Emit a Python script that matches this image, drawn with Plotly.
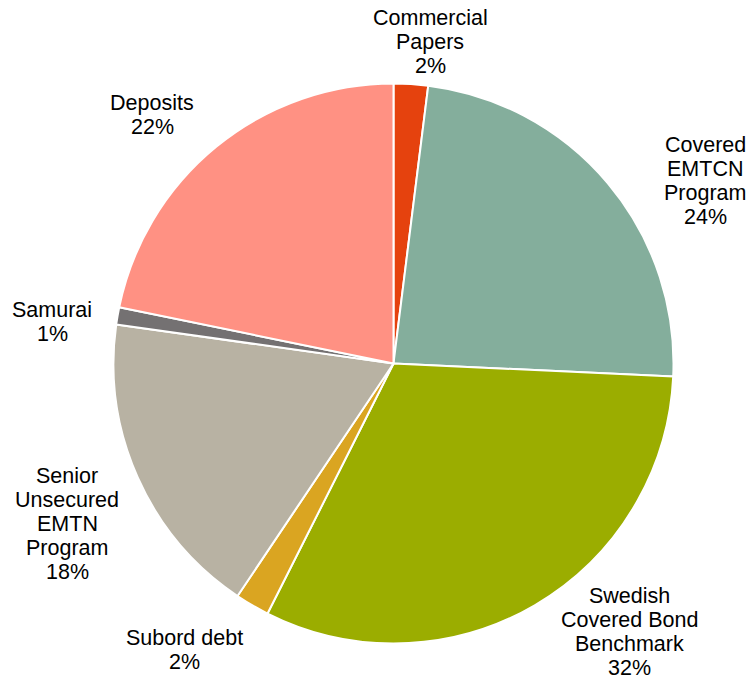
import plotly.graph_objects as go

# Funding mix by source (share of total, %)
categories = [
    "Commercial<br>Papers",
    "Covered<br>EMTCN<br>Program",
    "Swedish<br>Covered Bond<br>Benchmark",
    "Subord debt",
    "Senior<br>Unsecured<br>EMTN<br>Program",
    "Samurai",
    "Deposits",
]
shares = [2, 24, 32, 2, 18, 1, 22]
colors = ["#E5420E", "#84AE9C", "#9BAD00", "#DAA521", "#B8B2A3", "#747172", "#FF9183"]

W, H = 747, 681

# Pie placement (pixels): centre and radius
CX, CY, R = 393.5, 363.5, 280

# Label block centres (pixels), one per category, and line pitch
label_pos = [
    (430, 42),
    (705, 181),
    (629, 632),
    (184, 650),
    (67, 524),
    (52, 322),
    (152, 115),
]
LINE_PITCH = 24
FONT = dict(family="Liberation Sans, Arial, sans-serif", size=21.5, color="#000000")

fig = go.Figure(
    go.Pie(
        values=shares,
        labels=[c.replace("<br>", " ") for c in categories],
        marker=dict(colors=colors, line=dict(color="white", width=2)),
        sort=False,
        direction="clockwise",
        rotation=0,
        textinfo="none",
        hoverinfo="label+value",
        domain=dict(
            x=[(CX - R) / W, (CX + R) / W],
            y=[(H - CY - R) / H, (H - CY + R) / H],
        ),
        showlegend=False,
    )
)

# Each label is drawn line by line so the line pitch stays tight
annotations = []
for name, val, (px, py) in zip(categories, shares, label_pos):
    lines = name.split("<br>") + [f"{val}%"]
    n = len(lines)
    for i, line in enumerate(lines):
        ly = py + (i - (n - 1) / 2) * LINE_PITCH
        annotations.append(
            dict(
                text=line,
                x=px / W,
                y=1 - ly / H,
                xref="paper",
                yref="paper",
                xanchor="center",
                yanchor="middle",
                showarrow=False,
                align="center",
                font=FONT,
            )
        )

fig.update_layout(
    width=W,
    height=H,
    margin=dict(l=0, r=0, t=0, b=0),
    paper_bgcolor="white",
    plot_bgcolor="white",
    annotations=annotations,
)

fig.write_html("out.html")
